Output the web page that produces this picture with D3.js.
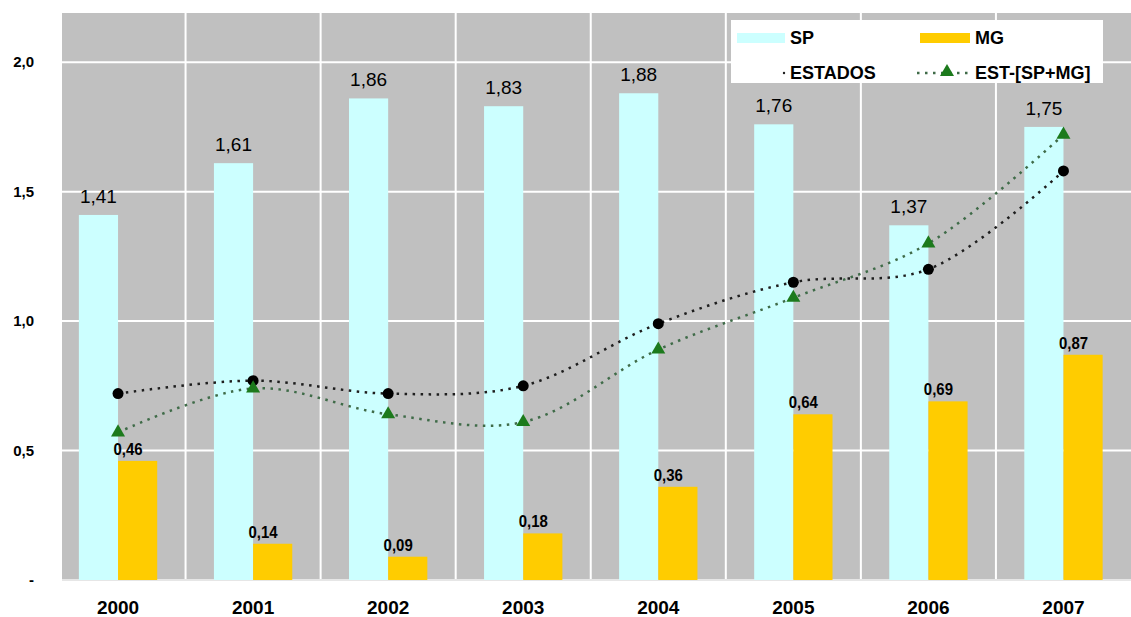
<!DOCTYPE html>
<html>
<head>
<meta charset="utf-8">
<script src="https://cdn.jsdelivr.net/npm/d3@7/dist/d3.min.js"></script>
<style>
  html, body { margin: 0; padding: 0; background: #ffffff; }
  svg { display: block; }
  text { font-family: "Liberation Sans", Arial, sans-serif; fill: #000; }
</style>
</head>
<body>
<svg id="chart" width="1131" height="617"></svg>
<script>
// Anos e séries
const years = ["2000", "2001", "2002", "2003", "2004", "2005", "2006", "2007"];
const sp = [1.41, 1.61, 1.86, 1.83, 1.88, 1.76, 1.37, 1.75];
const mg = [0.46, 0.14, 0.09, 0.18, 0.36, 0.64, 0.69, 0.87];
const estados = [0.72, 0.77, 0.72, 0.75, 0.99, 1.15, 1.20, 1.58];
const estMenos = [0.57, 0.74, 0.64, 0.61, 0.89, 1.09, 1.30, 1.72];
const yTicks = [0, 0.5, 1.0, 1.5, 2.0];
const yTickLabels = ["-", "0,5", "1,0", "1,5", "2,0"];
const seriesNames = ["SP", "MG", "ESTADOS", "EST-[SP+MG]"];

const fmt = v => d3.format(".2f")(v).replace(".", ",");

const colors = {
  plot: "#c0c0c0",
  sp: "#ccffff",
  mg: "#ffcc00",
  estados: "#1e1e1e",
  estMarker: "#000000",
  estMenos: "#3f6b48",
  estMenosMarker: "#1c7a1c",
  grid: "#ffffff"
};

const svg = d3.select("#chart");
const plot = { left: 62, top: 13, right: 1131, bottom: 580 };

const x = d3.scaleBand()
  .domain(years)
  .range([50.5, 1131])
  .paddingInner(0.42)
  .paddingOuter(0.21);
const xSub = d3.scaleBand().domain(["SP", "MG"]).range([0, x.bandwidth()]);
const xc = d => x(d) + x.bandwidth() / 2;

const y = d3.scaleLinear().domain([0, 2.19]).range([plot.bottom, plot.top]);

// fundo da área de plotagem
svg.append("rect")
  .attr("x", plot.left).attr("y", plot.top)
  .attr("width", plot.right - plot.left).attr("height", plot.bottom - plot.top)
  .attr("fill", colors.plot);

// grade horizontal
svg.append("g").selectAll("line")
  .data(yTicks.filter(t => t > 0))
  .join("line")
  .attr("x1", plot.left).attr("x2", plot.right)
  .attr("y1", d => y(d)).attr("y2", d => y(d))
  .attr("stroke", colors.grid).attr("stroke-width", 2);

// grade vertical nas divisões entre anos
const stepInner = x.step() * x.paddingInner();
svg.append("g").selectAll("line")
  .data(years.slice(1))
  .join("line")
  .attr("x1", d => x(d) - stepInner / 2).attr("x2", d => x(d) - stepInner / 2)
  .attr("y1", plot.top).attr("y2", plot.bottom)
  .attr("stroke", colors.grid).attr("stroke-width", 2);

// linha de base
svg.append("line")
  .attr("x1", plot.left).attr("x2", plot.right)
  .attr("y1", y(0)).attr("y2", y(0))
  .attr("stroke", "#e6e6e6").attr("stroke-width", 2);

// barras SP
svg.append("g").selectAll("rect")
  .data(years)
  .join("rect")
  .attr("x", d => x(d) + xSub("SP"))
  .attr("y", (d, i) => y(sp[i]))
  .attr("width", xSub.bandwidth())
  .attr("height", (d, i) => y(0) - y(sp[i]))
  .attr("fill", colors.sp);

// barras MG
svg.append("g").selectAll("rect")
  .data(years)
  .join("rect")
  .attr("x", d => x(d) + xSub("MG"))
  .attr("y", (d, i) => y(mg[i]))
  .attr("width", xSub.bandwidth())
  .attr("height", (d, i) => y(0) - y(mg[i]))
  .attr("fill", colors.mg);

// rótulos SP
svg.append("g").selectAll("text")
  .data(years)
  .join("text")
  .attr("x", d => x(d) + xSub("SP") + xSub.bandwidth() / 2)
  .attr("y", (d, i) => y(sp[i]) - 12)
  .attr("text-anchor", "middle")
  .attr("font-size", 19)
  .text((d, i) => fmt(sp[i]));

// rótulos MG (fonte estreita)
svg.append("g").selectAll("text")
  .data(years)
  .join("text")
  .attr("transform", (d, i) => `translate(${x(d) + xSub("MG") + 10},${y(mg[i]) - 6}) scale(0.88,1)`)
  .attr("text-anchor", "middle")
  .attr("font-size", 17)
  .attr("font-weight", "bold")
  .text((d, i) => fmt(mg[i]));

// linhas suavizadas
const line = d3.line()
  .x((d, i) => xc(years[i]))
  .y(d => y(d))
  .curve(d3.curveCatmullRom.alpha(0.5));

svg.append("path")
  .datum(estados)
  .attr("d", line)
  .attr("fill", "none")
  .attr("stroke", colors.estados)
  .attr("stroke-width", 2.5)
  .attr("stroke-dasharray", "2.5,5.5");

svg.append("path")
  .datum(estMenos)
  .attr("d", line)
  .attr("fill", "none")
  .attr("stroke", colors.estMenos)
  .attr("stroke-width", 2.5)
  .attr("stroke-dasharray", "2.5,5.5");

// marcadores
svg.append("g").selectAll("circle")
  .data(estados)
  .join("circle")
  .attr("cx", (d, i) => xc(years[i]))
  .attr("cy", d => y(d))
  .attr("r", 5.5)
  .attr("fill", colors.estMarker);

const tri = d3.symbol().type(d3.symbolTriangle).size(85);
svg.append("g").selectAll("path")
  .data(estMenos)
  .join("path")
  .attr("transform", (d, i) => `translate(${xc(years[i])},${y(d)})`)
  .attr("d", tri)
  .attr("fill", colors.estMenosMarker);

// eixo Y
svg.append("g").selectAll("text")
  .data(yTicks)
  .join("text")
  .attr("x", 34)
  .attr("y", d => y(d) + 5)
  .attr("text-anchor", "end")
  .attr("font-size", 15)
  .attr("font-weight", "bold")
  .text((d, i) => yTickLabels[i]);

// eixo X
svg.append("g").selectAll("text")
  .data(years)
  .join("text")
  .attr("x", d => xc(d))
  .attr("y", 614)
  .attr("text-anchor", "middle")
  .attr("font-size", 19)
  .attr("font-weight", "bold")
  .text(d => d);

// legenda
const lg = svg.append("g").attr("transform", "translate(731,20)");
lg.append("rect").attr("width", 372).attr("height", 63).attr("fill", "#ffffff");
const lgText = (tx, ty, s) => lg.append("text")
  .attr("x", tx).attr("y", ty).attr("font-size", 18).attr("font-weight", "bold").text(s);
// SP
lg.append("rect").attr("x", 6).attr("y", 13).attr("width", 48).attr("height", 10).attr("fill", colors.sp);
lgText(59, 24, seriesNames[0]);
// MG
lg.append("rect").attr("x", 189).attr("y", 13).attr("width", 50).attr("height", 10).attr("fill", colors.mg);
lgText(244, 24, seriesNames[1]);
// ESTADOS
lg.append("circle").attr("cx", 53).attr("cy", 53).attr("r", 1.2).attr("fill", colors.estados);
lgText(59, 59, seriesNames[2]);
// EST-[SP+MG]
lg.append("line").attr("x1", 186).attr("x2", 240).attr("y1", 53).attr("y2", 53)
  .attr("stroke", colors.estMenos).attr("stroke-width", 2.5).attr("stroke-dasharray", "2.5,5.5");
lg.append("path").attr("transform", "translate(216,52)").attr("d", tri).attr("fill", colors.estMenosMarker);
lgText(244, 59, seriesNames[3]);
</script>
</body>
</html>
